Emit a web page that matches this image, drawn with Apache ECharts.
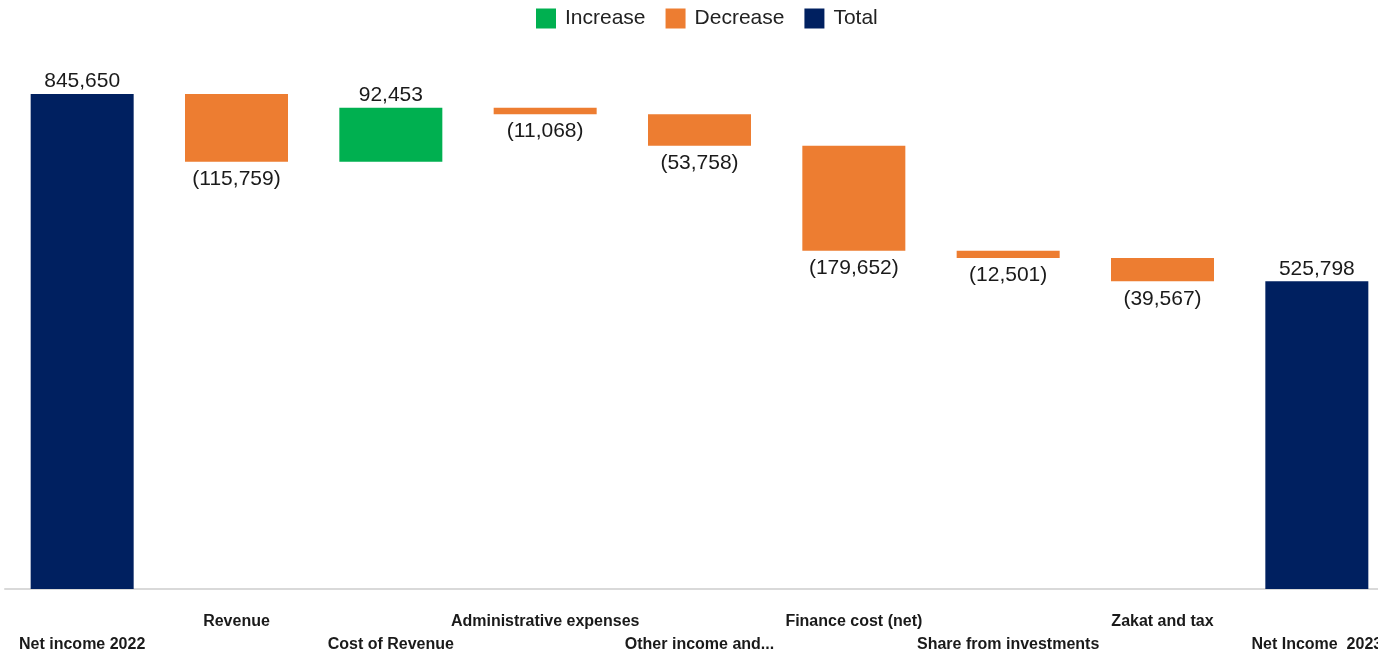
<!DOCTYPE html>
<html><head><meta charset="utf-8">
<script src="https://cdn.jsdelivr.net/npm/echarts@6/dist/echarts.min.js"></script>
<style>html,body{margin:0;padding:0;background:#fff;}#c{width:1378px;height:652px;}</style>
</head><body><div id="c"></div>
<script>
const categories = ['Net income 2022','Revenue','Cost of Revenue','Administrative expenses','Other income and...','Finance cost (net)','Share from investments','Zakat and tax','Net Income  2023'];
const changes = [845650, -115759, 92453, -11068, -53758, -179652, -12501, -39567, 525798];
const kinds = ['total','decrease','increase','decrease','decrease','decrease','decrease','decrease','total'];

const base = [], inc = [], dec = [], tot = [];
let running = 0;
changes.forEach((v, i) => {
  const k = kinds[i];
  if (k === 'total') {
    base.push(0); tot.push(v); inc.push('-'); dec.push('-'); running = v;
  } else if (k === 'increase') {
    base.push(running); inc.push(v); dec.push('-'); tot.push('-'); running += v;
  } else {
    running += v; base.push(running); dec.push(-v); inc.push('-'); tot.push('-');
  }
});
const fmt = n => n.toLocaleString('en-US');
const FONT = 'Liberation Sans';
const chart = echarts.init(document.getElementById('c'));
chart.setOption({
  animation: false,
  textStyle: { fontFamily: FONT },
  legend: {
    top: 3, left: 531, itemWidth: 20, itemHeight: 20, itemGap: 20, icon: 'rect',
    textStyle: { fontSize: 21, color: '#222', fontFamily: FONT, padding: [0, 0, 0, 4] },
    data: ['Increase','Decrease','Total']
  },
  grid: { left: 5, top: 40, width: 1389, height: 549, containLabel: false, outerBoundsMode: 'none' },
  xAxis: {
    type: 'category', data: categories,
    axisLine: { lineStyle: { color: '#d9d9d9', width: 2 } },
    axisTick: { show: false },
    axisLabel: {
      interval: 0, hideOverlap: false, margin: 21,
      fontSize: 16, fontWeight: 'bold', color: '#1a1a1a', fontFamily: FONT, lineHeight: 23,
      formatter: (v, i) => (i % 2 === 0 ? '\n' + v : v)
    }
  },
  yAxis: { type: 'value', min: 0, max: 938000, show: false, splitLine: { show: false } },
  series: [
    { name: 'base', type: 'bar', stack: 'w', data: base, barWidth: 103, silent: true,
      itemStyle: { color: 'transparent' } },
    { name: 'Increase', type: 'bar', stack: 'w', data: inc, barWidth: 103,
      itemStyle: { color: '#00b050' },
      label: { show: true, position: 'top', distance: 2, fontSize: 21, color: '#1a1a1a', fontFamily: FONT, formatter: p => fmt(p.value) } },
    { name: 'Decrease', type: 'bar', stack: 'w', data: dec, barWidth: 103,
      itemStyle: { color: '#ed7d31' },
      label: { show: true, position: 'bottom', distance: 7, fontSize: 21, color: '#1a1a1a', fontFamily: FONT, formatter: p => '(' + fmt(p.value) + ')' } },
    { name: 'Total', type: 'bar', stack: 'w', data: tot, barWidth: 103,
      itemStyle: { color: '#002060' },
      label: { show: true, position: 'top', distance: 2, fontSize: 21, color: '#1a1a1a', fontFamily: FONT, formatter: p => fmt(p.value) } }
  ]
});
</script></body></html>
